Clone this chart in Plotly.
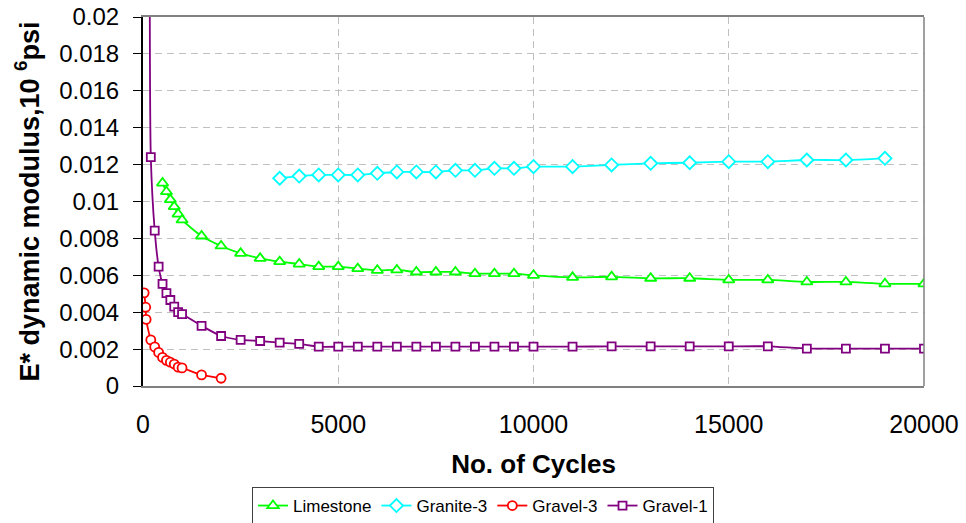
import plotly.graph_objects as go

# ---- data ----
lime_x = [500, 600, 700, 800, 900, 1000, 1500, 2000, 2500, 3000, 3500, 4000, 4500, 5000,
          5500, 6000, 6500, 7000, 7500, 8000, 8500, 9000, 9500, 10000, 11000, 12000,
          13000, 14000, 15000, 16000, 17000, 18000, 19000, 20000]
lime_y = [0.0110, 0.01053, 0.0101, 0.00972, 0.00932, 0.0090, 0.00813, 0.00759, 0.00719,
          0.00692, 0.00674, 0.00661, 0.00647, 0.00647, 0.00636, 0.00627, 0.00629, 0.00618,
          0.00618, 0.00618, 0.00609, 0.00609, 0.00609, 0.0060, 0.00589, 0.00592, 0.00584,
          0.00584, 0.00575, 0.00575, 0.00564, 0.00564, 0.00554, 0.00554]

gran_x = [3500, 4000, 4500, 5000, 5500, 6000, 6500, 7000, 7500, 8000, 8500, 9000, 9500,
          10000, 11000, 12000, 13000, 14000, 15000, 16000, 17000, 18000, 19000]
gran_y = [0.01126, 0.01138, 0.01144, 0.01144, 0.01144, 0.01153, 0.0116, 0.0116, 0.0116,
          0.01169, 0.01169, 0.0118, 0.0118, 0.01189, 0.01189, 0.01198, 0.01207, 0.0121,
          0.01216, 0.01216, 0.01225, 0.01225, 0.01234]

grv3_x = [30, 70, 80, 200, 300, 400, 500, 600, 700, 800, 900, 1000, 1500, 2000]
grv3_y = [0.00505, 0.00427, 0.00361, 0.00250, 0.00212, 0.00182, 0.00155, 0.00139,
          0.00129, 0.00119, 0.00102, 0.00098, 0.00060, 0.00042]

grv1_x = [170, 200, 300, 400, 500, 600, 700, 800, 900, 1000, 1500, 2000, 2500, 3000,
          3500, 4000, 4500, 5000, 5500, 6000, 6500, 7000, 7500, 8000, 8500, 9000, 9500,
          10000, 11000, 12000, 13000, 14000, 15000, 16000, 17000, 18000, 19000, 20000]
grv1_y = [0.030, 0.0124, 0.00842, 0.00647, 0.00553, 0.00503, 0.00466, 0.0043, 0.0040,
          0.0039, 0.00326, 0.00271, 0.00250, 0.00244, 0.00235, 0.00228, 0.00213, 0.00213,
          0.00213, 0.00213, 0.00213, 0.00213, 0.00213, 0.00213, 0.00213, 0.00213, 0.00213,
          0.00213, 0.00213, 0.00215, 0.00215, 0.00215, 0.00215, 0.00215, 0.00203, 0.00203,
          0.00203, 0.00203]

series = [
    ("Limestone", lime_x, lime_y, "#00FF00", "triangle-up", 10),
    ("Granite-3", gran_x, gran_y, "#00FFFF", "diamond", 10),
    ("Gravel-3", grv3_x, grv3_y, "#FF0000", "circle", 9),
    ("Gravel-1", grv1_x, grv1_y, "#800080", "square", 8),
]

FONT = "Liberation Sans, Arial, sans-serif"

fig = go.Figure()
for name, xs, ys, col, sym, sz in series:
    fig.add_trace(go.Scatter(
        x=xs, y=ys, name=name, mode="lines+markers",
        line=dict(color=col, width=1.8, shape="spline", smoothing=0.6),
        marker=dict(symbol=sym, size=sz, color="white", line=dict(color=col, width=1.8)),
    ))

fig.update_layout(
    width=966, height=523,
    margin=dict(l=143, r=42, t=17, b=137, autoexpand=False),
    paper_bgcolor="white", plot_bgcolor="white",
    font=dict(family=FONT, color="black"),
    showlegend=True,
    legend=dict(orientation="h", xref="container", yref="container",
                x=0.5, xanchor="center", y=(523 - 487) / 523, yanchor="top",
                bordercolor="#404040", borderwidth=1, bgcolor="white",
                font=dict(size=17, family=FONT), tracegroupgap=0, itemwidth=30),
)

fig.update_xaxes(
    range=[0, 20000], dtick=5000, tickformat="d", automargin=False,
    showgrid=True, gridcolor="#C0C0C0", griddash="7px,5px", gridwidth=1,
    showline=True, linecolor="#808080", linewidth=1.5, mirror=True,
    zeroline=False, ticks="", ticklabelstandoff=15,
    tickfont=dict(size=25, family=FONT),
    title=dict(text="<b>No. of Cycles</b>", font=dict(size=26, family=FONT), standoff=18),
)
fig.update_yaxes(
    range=[0, 0.02], dtick=0.002, automargin=False,
    showgrid=True, gridcolor="#C0C0C0", griddash="7px,5px", gridwidth=1,
    showline=True, linecolor="black", linewidth=2, mirror=False,
    zeroline=False, ticks="outside", ticklen=8, tickcolor="black", tickwidth=1,
    ticklabelstandoff=9,
    tickfont=dict(size=24, family=FONT),
    title=dict(text="<b>E* dynamic modulus,10 <sup>6</sup>psi</b>",
               font=dict(size=27, family=FONT), standoff=12),
)

fig.add_shape(type="line", xref="paper", yref="paper", x0=1, x1=1, y0=0, y1=1,
              line=dict(color="#808080", width=1.5))

fig.write_html("out.html", config={"displayModeBar": False},
               post_script="document.body.style.margin='0';document.body.style.overflow='hidden';")
